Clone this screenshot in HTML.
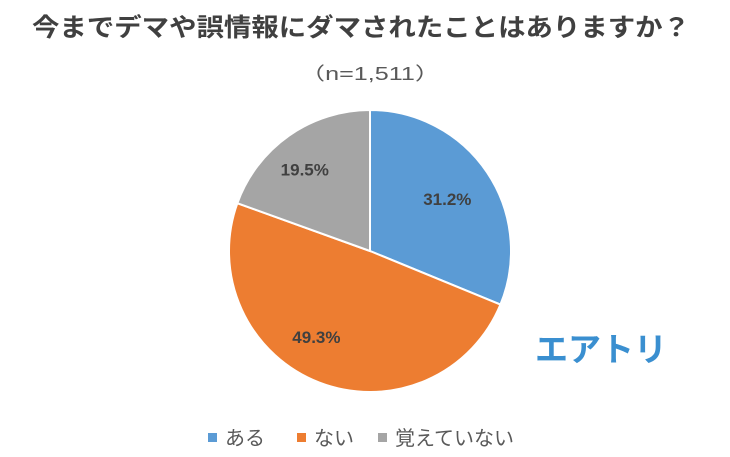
<!DOCTYPE html>
<html><head><meta charset="utf-8"><style>
body{margin:0;background:#fff;}
svg{display:block;font-family:"Liberation Sans","Noto Sans CJK JP",sans-serif;}
</style></head><body>
<svg id="chart" width="730" height="457" viewBox="0 0 730 457">
<text x="32" y="36" font-size="25" font-weight="bold" fill="#404040" textLength="658" lengthAdjust="spacingAndGlyphs">今までデマや誤情報にダマされたことはありますか？</text>
<text x="370" y="80" font-size="18" fill="#595959" text-anchor="middle" textLength="140" lengthAdjust="spacingAndGlyphs">（n=1,511）</text>
<g id="slices"></g>
<g id="labels"></g>
<text x="601" y="361" font-size="33" font-weight="bold" fill="#3a8fd0" text-anchor="middle" textLength="132" lengthAdjust="spacingAndGlyphs">エアトリ</text>
<g id="legend"></g>
</svg>
<script>
const categories = ["ある", "ない", "覚えていない"];
const values = [31.2, 49.3, 19.5];
const colors = ["#5b9bd5", "#ed7d31", "#a5a5a5"];
const labelTexts = ["31.2%", "49.3%", "19.5%"];
const NS = "http://www.w3.org/2000/svg";
const cx = 370, cy = 251, r = 141;
const labelRad = [0.66, 0.72, 0.74];
const labelShift = [0.0, 0.03, -0.01];
const total = values.reduce((a, b) => a + b, 0);
const slices = document.getElementById("slices");
const labels = document.getElementById("labels");
let start = 0;
function pt(frac, rad) { const a = frac * 2 * Math.PI - Math.PI / 2; return [cx + rad * Math.cos(a), cy + rad * Math.sin(a)]; }
values.forEach((v, i) => {
  const f = v / total, end = start + f;
  const [x1, y1] = pt(start, r), [x2, y2] = pt(end, r);
  const p = document.createElementNS(NS, "path");
  p.setAttribute("d", `M${cx},${cy} L${x1},${y1} A${r},${r} 0 ${f > 0.5 ? 1 : 0} 1 ${x2},${y2} Z`);
  p.setAttribute("fill", colors[i]);
  p.setAttribute("stroke", "#fff");
  p.setAttribute("stroke-width", "2");
  
  
  slices.appendChild(p);
  const [lx, ly] = pt(start + f / 2 + labelShift[i], r * labelRad[i]);
  const t = document.createElementNS(NS, "text");
  t.setAttribute("x", lx); t.setAttribute("y", ly + 6);
  t.setAttribute("text-anchor", "middle");
  t.setAttribute("font-size", "17"); t.setAttribute("font-weight", "bold");
  t.setAttribute("fill", "#404040");
  t.textContent = labelTexts[i];
  
  
  labels.appendChild(t);
  start = end;
});
const legend = document.getElementById("legend");
const lxs = [208, 297, 378];
categories.forEach((c, i) => {
  const g = document.createElementNS(NS, "g");
  
  
  const s = document.createElementNS(NS, "rect");
  s.setAttribute("x", lxs[i]); s.setAttribute("y", 433); s.setAttribute("width", 9); s.setAttribute("height", 9);
  s.setAttribute("fill", colors[i]);
  const t = document.createElementNS(NS, "text");
  t.setAttribute("x", lxs[i] + 17); t.setAttribute("y", 445);
  t.setAttribute("font-size", "20"); t.setAttribute("fill", "#595959");
  t.textContent = c;
  g.appendChild(s); g.appendChild(t);
  legend.appendChild(g);
});
</script>
</body></html>
